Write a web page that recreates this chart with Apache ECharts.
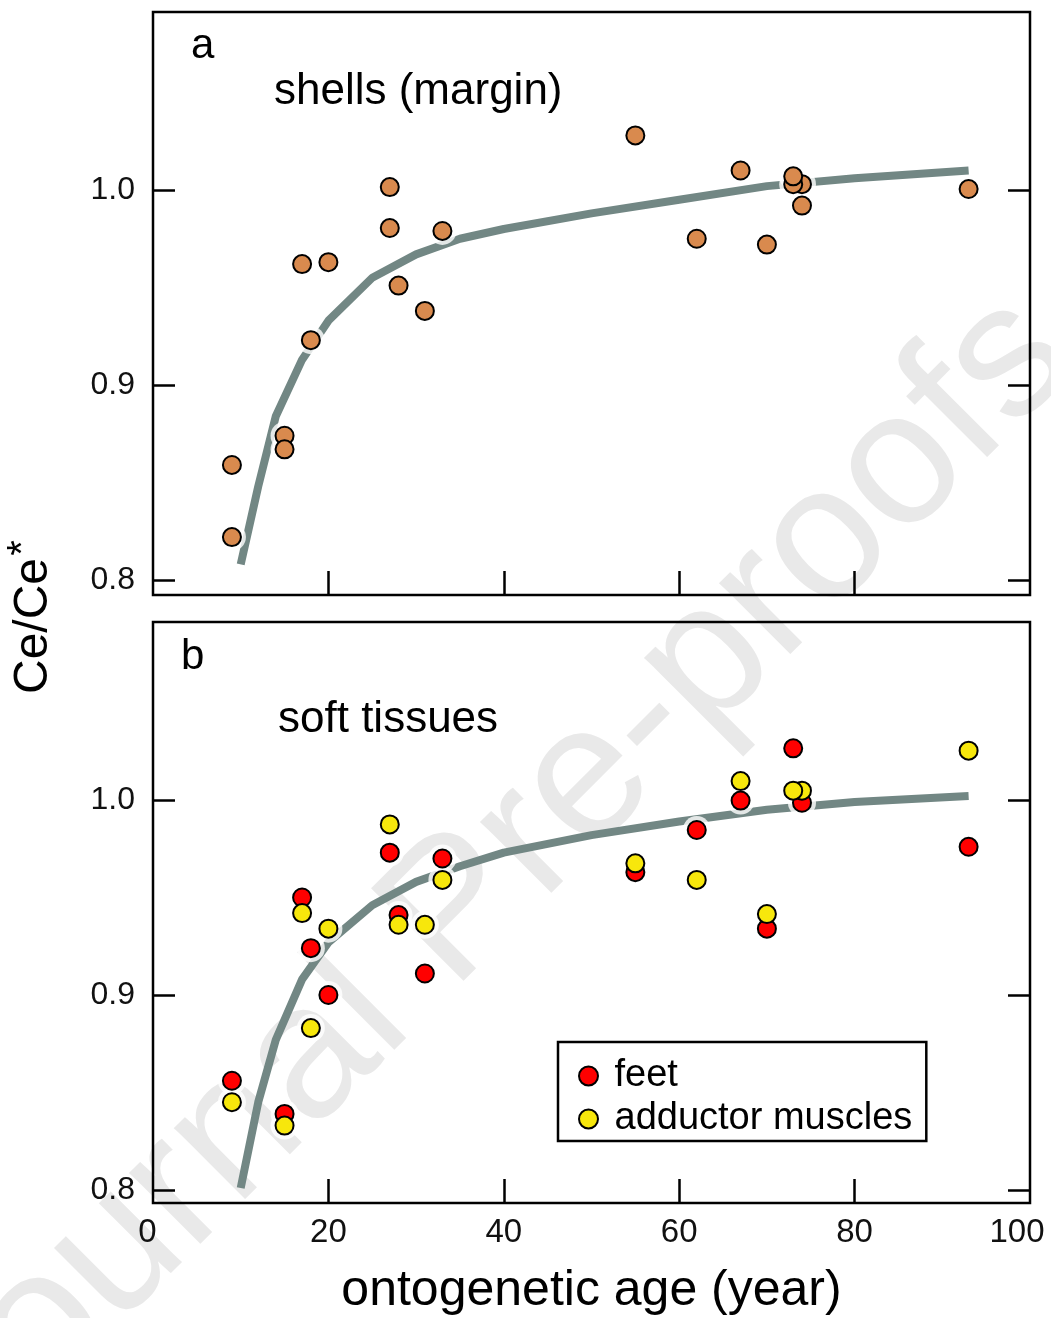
<!DOCTYPE html>
<html lang="en">
<head>
    <meta charset="UTF-8">
    <title>Ce/Ce* vs ontogenetic age</title>
    <script src="https://cdn.jsdelivr.net/npm/echarts@6.0.0/dist/echarts.min.js"></script>
    <style>
        html, body { margin: 0; padding: 0; background: #fff; }
        #main { width: 1051px; height: 1318px; }
    </style>
</head>
<body>
<div id="main"></div>
<script>
    // panel a: shells (margin)
    var shellAge = [9, 9, 15, 15, 17, 18, 20, 27, 27, 28, 31, 33, 55, 62, 67, 70, 74, 74, 73, 73, 93];
    var shellCe  = [0.859, 0.822, 0.874, 0.867, 0.962, 0.923, 0.963, 1.0015, 0.9805, 0.951, 0.938, 0.979,
                    1.028, 0.975, 1.010, 0.972, 1.003, 0.992, 1.003, 1.007, 1.0005];

    // panel b: soft tissues
    var tissueAge = [9, 15, 17, 18, 20, 27, 28, 31, 33, 55, 62, 67, 70, 74, 73, 93];
    var feetCe    = [0.856, 0.839, 0.950, 0.924, 0.900, 0.973, 0.941, 0.911, 0.970, 0.963, 0.9846, 0.9997, 0.934, 0.9986, 1.0265, 0.976];
    var adductCe  = [0.845, 0.833, 0.942, 0.883, 0.934, 0.9875, 0.936, 0.936, 0.959, 0.9675, 0.959, 1.0097, 0.9415, 1.0048, 1.0048, 1.0253];

    // fitted curves
    var fitAge    = [10, 12, 14, 17, 20, 25, 30, 35, 40, 50, 60, 70, 80, 93];
    var shellFit  = [0.808, 0.848, 0.884, 0.913, 0.933, 0.955, 0.967, 0.975, 0.980, 0.988, 0.995, 1.002, 1.006, 1.010];
    var tissueFit = [0.801, 0.845, 0.877, 0.908, 0.927, 0.946, 0.958, 0.966, 0.973, 0.982, 0.989, 0.995, 0.999, 1.002];

    var xTicks = [20, 40, 60, 80];
    var yTicks = [0.8, 0.9, 1.0];

    var FONT = '"Liberation Sans", Arial, sans-serif';
    var lineColor = '#728784';

    function pairs(xs, ys) {
        return xs.map(function (x, i) { return [x, ys[i]]; });
    }

    function xAxisFor(grid, withLabels) {
        return {
            type: 'value', gridIndex: grid, min: 0, max: 100, interval: 20,
            axisLine: { show: false },
            splitLine: { show: false },
            axisTick: { show: true, inside: true, length: 24, customValues: xTicks,
                        lineStyle: { color: '#000', width: 2.5 } },
            axisLabel: { show: withLabels, fontFamily: FONT, fontSize: 33, color: '#111', margin: 13,
                         hideOverlap: false,
                         // end labels sit a little left of their ticks, as in the original
                         formatter: function (v) {
                             if (v === 0) return '{l|0}';
                             if (v === 100) return '{r|100}';
                             return String(v);
                         },
                         rich: {
                             l: { fontFamily: FONT, fontSize: 33, color: '#111', padding: [0, 11, 0, 0] },
                             r: { fontFamily: FONT, fontSize: 33, color: '#111', padding: [0, 26, 0, 0] }
                         } },
            name: withLabels ? 'ontogenetic age (year)' : '',
            nameLocation: 'middle', nameGap: 63,
            nameTextStyle: { fontFamily: FONT, fontSize: 50, color: '#000' }
        };
    }

    function yAxisFor(grid, pos, minV) {
        return {
            type: 'value', gridIndex: grid, position: pos, min: minV, max: 1.0913,
            axisLine: { show: false },
            splitLine: { show: false },
            axisTick: { show: true, inside: true, length: 22, customValues: yTicks,
                        lineStyle: { color: '#000', width: 2.5 } },
            axisLabel: { show: pos === 'left', customValues: yTicks, margin: 18,
                         fontFamily: FONT, fontSize: 32, color: '#111',
                         formatter: function (v) { return v.toFixed(1); } }
        };
    }

    function halo(xi, yi, data) {
        return { type: 'scatter', xAxisIndex: xi, yAxisIndex: yi, data: data, silent: true,
                 symbolSize: 28, itemStyle: { color: '#fff' }, z: 3, legendHoverLink: false };
    }

    var myChart = echarts.init(document.getElementById('main'));
    var option = {
        animation: false,
        backgroundColor: '#fff',
        grid: [
            { left: 153, right: 21, top: 12, height: 583, show: true, borderColor: '#000', borderWidth: 2.5,
              containLabel: false, outerBoundsMode: 'none' },
            { left: 153, right: 21, top: 622, height: 581, show: true, borderColor: '#000', borderWidth: 2.5,
              containLabel: false, outerBoundsMode: 'none' }
        ],
        xAxis: [xAxisFor(0, false), xAxisFor(1, true)],
        yAxis: [yAxisFor(0, 'left', 0.7923), yAxisFor(0, 'right', 0.7923),
                yAxisFor(1, 'left', 0.7933), yAxisFor(1, 'right', 0.7933)],
        legend: {
            data: ['feet', 'adductor muscles'],
            orient: 'vertical', left: 558, top: 1042,
            padding: [15, 14, 3, 20],
            itemWidth: 42, itemHeight: 19, itemGap: 5,
            borderColor: '#000', borderWidth: 2.5,
            textStyle: { fontFamily: FONT, fontSize: 38, color: '#000', lineHeight: 38 }
        },
        graphic: [
            { type: 'text', x: 490, y: 880, rotation: Math.PI / 4, z: -10, silent: true,
              style: { text: 'Journal Pre-proofs', font: '190px ' + FONT, fill: '#e9e9e9',
                       align: 'center', verticalAlign: 'middle' } },
            { type: 'text', x: 191, y: 46, z: 10,
              style: { text: 'a', font: '42px ' + FONT, fill: '#000', verticalAlign: 'middle' } },
            { type: 'text', x: 274, y: 92, z: 10,
              style: { text: 'shells (margin)', font: '44px ' + FONT, fill: '#000', verticalAlign: 'middle' } },
            { type: 'text', x: 181, y: 657, z: 10,
              style: { text: 'b', font: '42px ' + FONT, fill: '#000', verticalAlign: 'middle' } },
            { type: 'text', x: 278, y: 720, z: 10,
              style: { text: 'soft tissues', font: '44px ' + FONT, fill: '#000', verticalAlign: 'middle' } },
            { type: 'text', x: 34, y: 694, rotation: Math.PI / 2, z: 10,
              style: { text: 'Ce/Ce', font: '48px ' + FONT, fill: '#000', align: 'left', verticalAlign: 'middle' } },
            { type: 'text', x: 24, y: 548, rotation: Math.PI / 2, z: 10,
              style: { text: '*', font: '40px ' + FONT, fill: '#000', align: 'center', verticalAlign: 'middle' } }
        ],
        series: [
            { type: 'line', xAxisIndex: 0, yAxisIndex: 0, data: pairs(fitAge, shellFit), symbol: 'none',
              lineStyle: { color: lineColor, width: 8 }, z: 2, silent: true },
            halo(0, 0, pairs(shellAge, shellCe)),
            { name: 'shells', type: 'scatter', xAxisIndex: 0, yAxisIndex: 0, data: pairs(shellAge, shellCe),
              symbolSize: 18, itemStyle: { color: '#d98a4e', borderColor: '#000', borderWidth: 2, opacity: 1 }, z: 4 },

            { type: 'line', xAxisIndex: 1, yAxisIndex: 2, data: pairs(fitAge, tissueFit), symbol: 'none',
              lineStyle: { color: lineColor, width: 8 }, z: 2, silent: true },
            halo(1, 2, pairs(tissueAge, feetCe).concat(pairs(tissueAge, adductCe))),
            { name: 'feet', type: 'scatter', xAxisIndex: 1, yAxisIndex: 2, data: pairs(tissueAge, feetCe),
              symbolSize: 18, itemStyle: { color: '#ff0000', borderColor: '#000', borderWidth: 2, opacity: 1 }, z: 4 },
            { name: 'adductor muscles', type: 'scatter', xAxisIndex: 1, yAxisIndex: 2, data: pairs(tissueAge, adductCe),
              symbolSize: 18, itemStyle: { color: '#f7e70c', borderColor: '#000', borderWidth: 2, opacity: 1 }, z: 4 }
        ]
    };
    myChart.setOption(option);
</script>
</body>
</html>
